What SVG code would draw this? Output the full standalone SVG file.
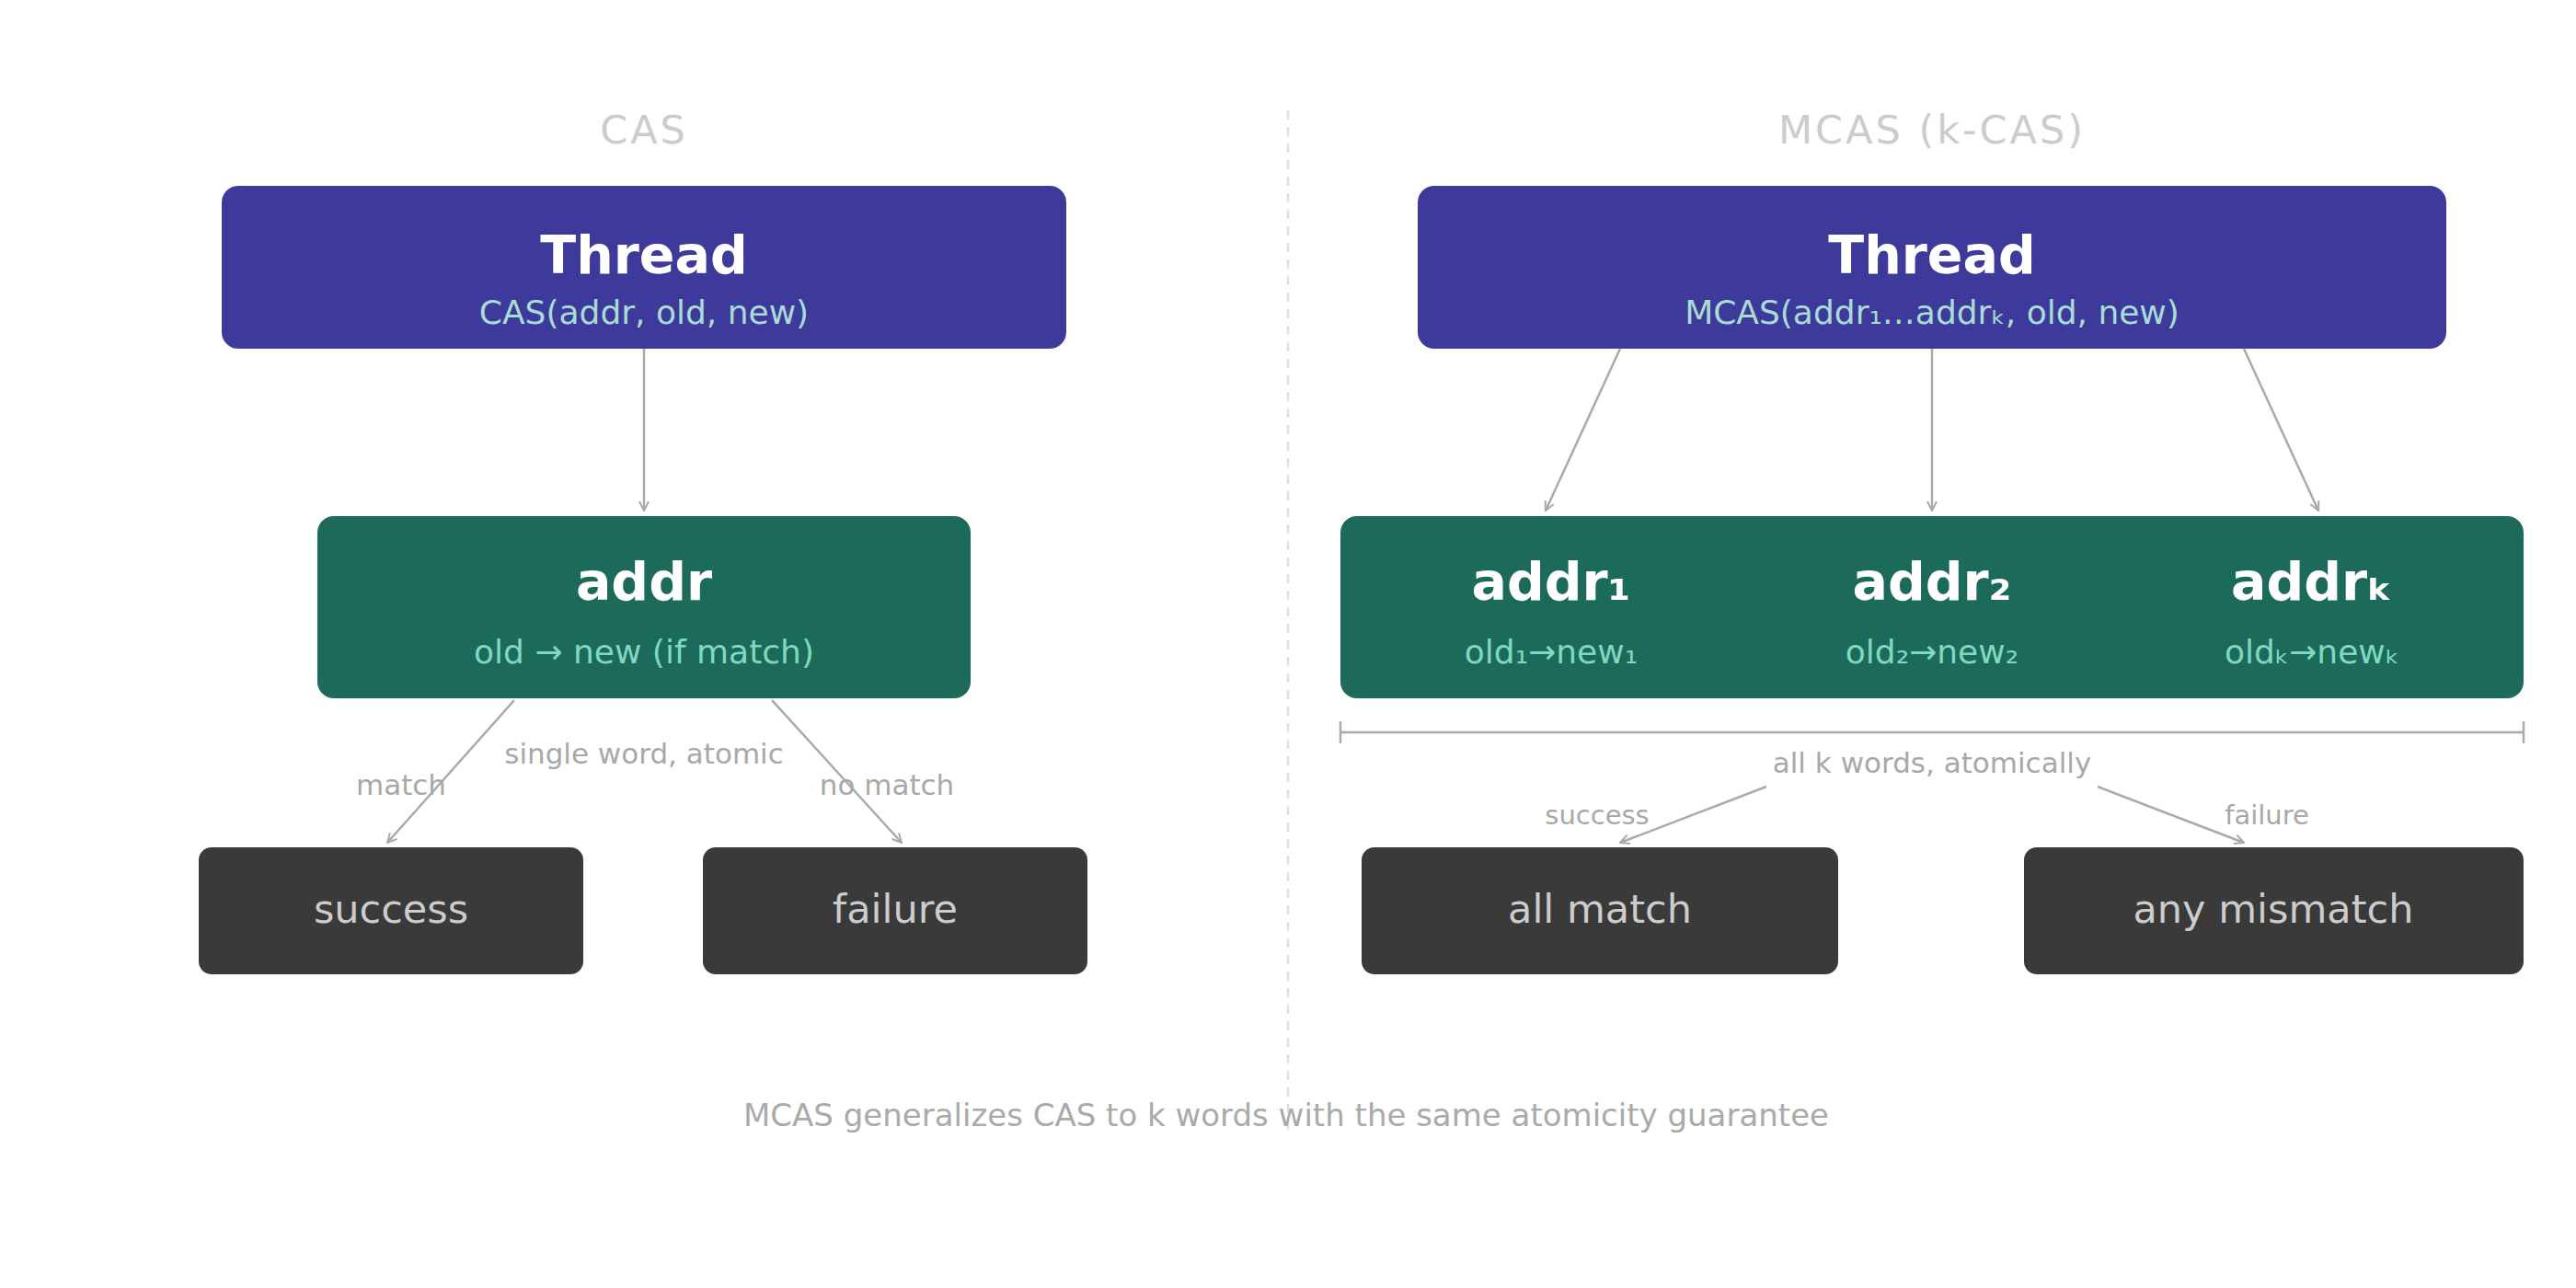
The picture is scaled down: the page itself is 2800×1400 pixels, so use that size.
<svg xmlns="http://www.w3.org/2000/svg" width="2800" height="1400" viewBox="0 0 2800 1400">
<style>
text{font-family:"DejaVu Sans","Noto Sans",sans-serif;text-anchor:middle}
.title{font-size:43px;fill:#cccccc;letter-spacing:3px}
.thread{fill:#3d3a9c}
.mem{fill:#1c6b5a}
.res{fill:#3a3a3a}
.h{font-size:57px;font-weight:bold;fill:#ffffff}
.ts{font-size:36px;fill:#a8dcd4}
.ms{font-size:36px;fill:#7fd8c0}
.rt{font-size:43px;fill:#cccccc}
.lbl{font-size:31px;fill:#a8a8a8}
.sl{font-size:29px;fill:#a8a8a8}
.c{stroke:#aaaaaa;stroke-width:2.5;fill:none}
</style>
<defs>
<marker id="ar" viewBox="0 0 12 12" refX="11" refY="6" markerWidth="12" markerHeight="12" markerUnits="userSpaceOnUse" orient="auto">
<path d="M1,1 L11,6 L1,11" fill="none" stroke="#aaaaaa" stroke-width="2"/>
</marker>
</defs>
<rect width="2800" height="1400" fill="#ffffff"/>
<line x1="1400" y1="120" x2="1400" y2="1235" stroke="#e0e0e0" stroke-width="2.5" stroke-dasharray="10,8"/>
<text class="title" x="700" y="156">CAS</text>
<text class="title" x="2100" y="156">MCAS (k-CAS)</text>

<g id="cas-thread"><rect class="thread" x="241" y="202" width="918" height="177" rx="18"/>
<text class="h" x="700" y="297">Thread</text><text class="ts" x="700" y="352">CAS(addr, old, new)</text></g>
<g id="cas-addr"><rect class="mem" x="345" y="561" width="710" height="198" rx="18"/>
<text class="h" x="700" y="652">addr</text><text class="ms" x="700" y="721">old → new (if match)</text></g>
<g id="cas-success"><rect class="res" x="216" y="921" width="418" height="138" rx="14"/><text class="rt" x="425" y="1003">success</text></g>
<g id="cas-failure"><rect class="res" x="764" y="921" width="418" height="138" rx="14"/><text class="rt" x="973" y="1003">failure</text></g>

<g id="mcas-thread"><rect class="thread" x="1541" y="202" width="1118" height="177" rx="18"/>
<text class="h" x="2100" y="297">Thread</text><text class="ts" x="2100" y="352">MCAS(addr₁…addrₖ, old, new)</text></g>
<g id="mcas-addrs"><rect class="mem" x="1457" y="561" width="1286" height="198" rx="18"/>
<text class="h" x="1686" y="652">addr₁</text><text class="ms" x="1686" y="721">old₁→new₁</text>
<text class="h" x="2100" y="652">addr₂</text><text class="ms" x="2100" y="721">old₂→new₂</text>
<text class="h" x="2513" y="652">addrₖ</text><text class="ms" x="2513" y="721">oldₖ→newₖ</text></g>
<g id="mcas-all"><rect class="res" x="1480" y="921" width="518" height="138" rx="14"/><text class="rt" x="1739" y="1003">all match</text></g>
<g id="mcas-any"><rect class="res" x="2200" y="921" width="543" height="138" rx="14"/><text class="rt" x="2471" y="1003">any mismatch</text></g>

<g id="connectors">
<line class="c" x1="700" y1="379" x2="700" y2="555" marker-end="url(#ar)"/>
<line class="c" x1="559" y1="761" x2="421" y2="916" marker-end="url(#ar)"/>
<line class="c" x1="839" y1="761" x2="980" y2="916" marker-end="url(#ar)"/>
<line class="c" x1="1761" y1="379" x2="1680" y2="555" marker-end="url(#ar)"/>
<line class="c" x1="2100" y1="379" x2="2100" y2="555" marker-end="url(#ar)"/>
<line class="c" x1="2439" y1="379" x2="2520" y2="555" marker-end="url(#ar)"/>
<path class="c" d="M1457,784 V808 M1457,796 H2743 M2743,784 V808"/>
<line class="c" x1="1920" y1="855" x2="1761" y2="916" marker-end="url(#ar)"/>
<line class="c" x1="2280" y1="855" x2="2439" y2="916" marker-end="url(#ar)"/>
</g>
<text class="lbl" x="436" y="864">match</text>
<text class="lbl" x="700" y="830">single word, atomic</text>
<text class="lbl" x="964" y="864">no match</text>
<text class="lbl" x="2100" y="840">all k words, atomically</text>
<text class="sl" x="1736" y="896">success</text>
<text class="sl" x="2464" y="896">failure</text>
<text x="1398" y="1224" style="font-size:34px;fill:#aaaaaa">MCAS generalizes CAS to k words with the same atomicity guarantee</text>
</svg>
